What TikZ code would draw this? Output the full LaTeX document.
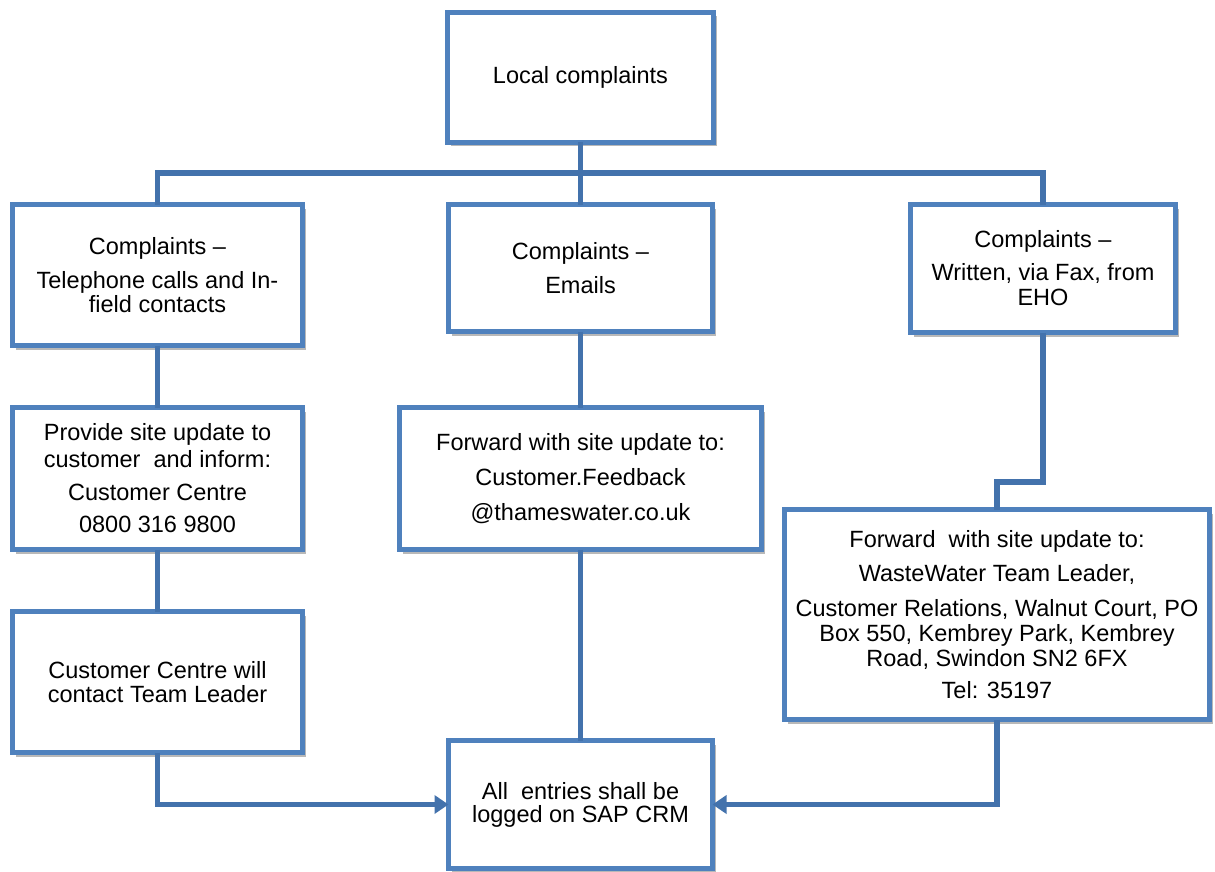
\documentclass[tikz,border=0pt]{standalone}
\usepackage{fontspec}
\setmainfont{Liberation Sans}
\usetikzlibrary{arrows.meta,shadows}
\definecolor{boxblue}{HTML}{4F81BD}
\definecolor{linkblue}{HTML}{4372AC}
\tikzset{
  box/.style={draw=boxblue, line width=5pt, fill=white, align=center, inner sep=0pt, outer sep=0pt,
    font=\fontsize{23.5}{24.5}\selectfont,
    drop shadow={shadow xshift=3pt, shadow yshift=-4pt, opacity=0.28, fill=black}},
  link/.style={draw=linkblue, line width=5.5pt},
  arrowlink/.style={link, -{Triangle[length=14pt,width=18pt]}}
}
\begin{document}
\begin{tikzpicture}[x=1pt,y=-1pt]
\useasboundingbox (0,0) rectangle (1215,872);
% boxes
\node[box, minimum width=266pt, minimum height=130pt] (top) at (580.5,77.5) {Local complaints};
\node[box, minimum width=290pt, minimum height=141pt] (L1) at (157.5,275) {Complaints --\\[9.5pt]Telephone calls and In-\\[-0.5pt]field contacts};
\node[box, minimum width=264pt, minimum height=127pt] (M1) at (580.5,268) {Complaints --\\[9.5pt]Emails};
\node[box, minimum width=265pt, minimum height=128pt] (R1) at (1043,268.5) {Complaints --\\[8.5pt]Written, via Fax, from\\[0.5pt]EHO};
\node[box, minimum width=290pt, minimum height=142pt] (L2) at (157.5,478.5) {Provide site update to\\[2.5pt]customer~~and inform:\\[8.5pt]Customer Centre\\[7.5pt]0800 316 9800};
\node[box, minimum width=362pt, minimum height=142pt] (M2) at (580.5,478.5) {Forward with site update to:\\[10.5pt]Customer.Feedback\\[10.5pt]@thameswater.co.uk};
\node[box, minimum width=425pt, minimum height=210pt] (R2) at (997,614.5) {Forward~~with site update to:\\[9.5pt]WasteWater Team Leader,\\[10.5pt]Customer Relations, Walnut Court, PO\\[0.5pt]Box 550, Kembrey Park, Kembrey\\[0.5pt]Road, Swindon SN2 6FX\\[7.5pt]Tel: 35197};
\node[box, minimum width=290pt, minimum height=141pt] (L3) at (157.5,682) {Customer Centre will\\[-0.5pt]contact Team Leader};
\node[box, minimum width=264pt, minimum height=128pt] (M3) at (580.5,804.5) {All~~entries shall be\\[-1.5pt]logged on SAP CRM};
% connectors
\coordinate (bus) at (580.5,173);
\coordinate (jog) at (1020,482);
\draw[link] (top.south) -- (M1.north);
\draw[link] (L1.north) |- (bus) -| (R1.north);
\draw[link] (L1.south) -- (L2.north);
\draw[link] (L2.south) -- (L3.north);
\draw[link] (M1.south) -- (M2.north);
\draw[link] (M2.south) -- (M3.north);
\draw[link] (R1.south) |- (jog) -| (R2.north);
\draw[arrowlink] (L3.south) |- (M3.west);
\draw[arrowlink] (R2.south) |- (M3.east);
\end{tikzpicture}
\end{document}
